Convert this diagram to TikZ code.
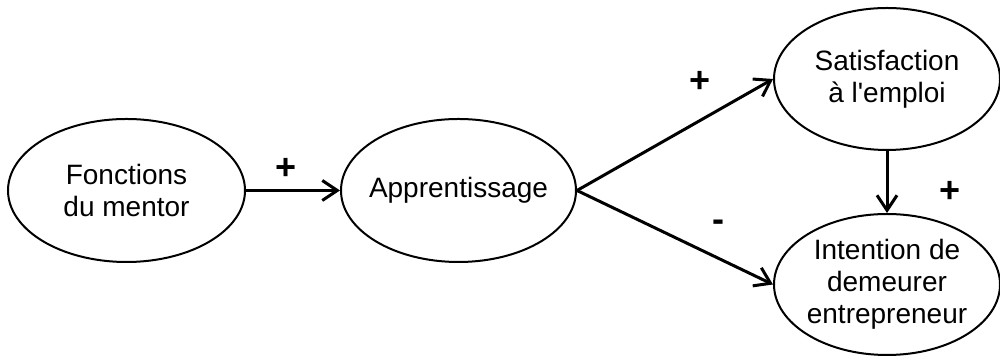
\documentclass[tikz,border=0pt]{standalone}
\usepackage{fontspec}
\setmainfont{Liberation Sans}[Ligatures=TeXOff]
\usetikzlibrary{shapes.geometric,arrows.meta}
\begin{document}
\begin{tikzpicture}[x=0.5pt,y=-0.5pt,
  box/.style={ellipse,draw,line width=1pt,inner xsep=-12pt,inner ysep=-6pt,align=center,
    font=\fontsize{14}{16}\selectfont},
  link/.style={line width=1.5pt,-{Straight Barb[length=7.5pt,width=10pt,line width=1.5pt]}},
  sign/.style={font=\fontsize{18}{18}\selectfont\bfseries}]
\useasboundingbox (0,0) rectangle (1000,356);
\node[box,minimum width=118.5pt,minimum height=71.5pt] (e1) at (126.5,190.5) {Fonctions\\du mentor};
\node[box,minimum width=117.5pt,minimum height=71.5pt] (e2) at (458.5,190.5) {Apprentissage};
\node[box,minimum width=113pt,minimum height=71pt] (e3) at (887,79) {Satisfaction\\à l'emploi};
\node[box,minimum width=113pt,minimum height=70.5pt] (e4) at (887,284.5) {Intention de\\demeurer\\entrepreneur};
\draw[link] (e1) -- (e2);
\draw[link] (e2.east) -- (e3.west);
\draw[link] (e2.east) -- (e4.west);
\draw[link] (e3) -- (e4);
\node[sign] (s1) at (286,169) {+};
\node[sign] (s2) at (700,82) {+};
\node[sign] (s3) at (718,226) {-};
\node[sign] (s4) at (950,192) {+};
\end{tikzpicture}
\end{document}
